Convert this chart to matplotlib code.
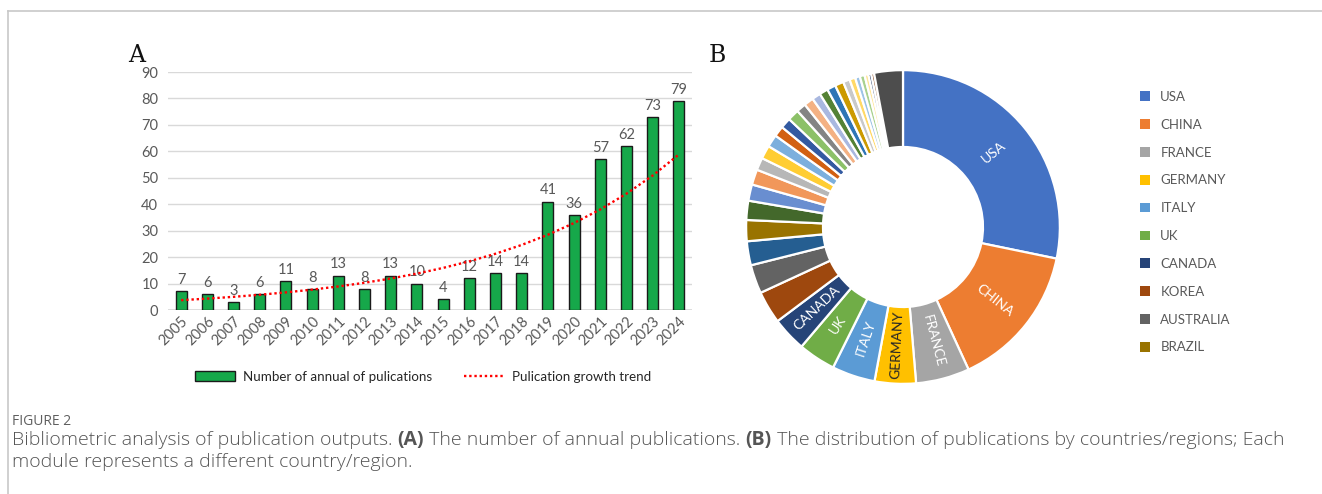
import numpy as np
import matplotlib
matplotlib.use("Agg")
import matplotlib.pyplot as plt
from matplotlib.patches import Patch
from matplotlib.lines import Line2D

# ---------------- data ----------------
years = [str(y) for y in range(2005, 2025)]
annual_pubs = [7, 6, 3, 6, 11, 8, 13, 8, 13, 10, 4, 12, 14, 14, 41, 36, 57, 62, 73, 79]

# donut slices in drawing order (clockwise from 12 o'clock)
slice_labels = ["USA", "CHINA", "FRANCE", "GERMANY", "ITALY", "UK", "CANADA", "KOREA",
                "AUSTRALIA", "", "BRAZIL"] + [""] * 22 + ["OTHERS"]
slice_values = [28.6, 15.1, 5.6, 4.3, 4.5, 3.9, 3.6, 3.4, 3.0, 2.5, 2.2,
                2.0, 1.7, 1.6, 1.3, 1.4, 1.3, 1.1, 1.1, 1.2, 1.0, 1.0, 0.9, 0.9,
                0.9, 0.9, 0.7, 0.6, 0.5, 0.5, 0.4, 0.3, 0.3, 3.0]
slice_colors = ["#4472C4", "#ED7D31", "#A5A5A5", "#FFC000", "#5B9BD5", "#70AD47",
                "#264478", "#9E480E", "#636363", "#255E91", "#997300",
                "#43682B", "#698ED0", "#F1975A", "#B7B7B7", "#FFCD33", "#7CAFDD",
                "#D26012", "#335AA1", "#8CC168", "#848484", "#F4B183", "#A9B8E0",
                "#548235", "#2E75B6", "#CC9A00", "#C9C9C9", "#FFD966", "#9DC3E6",
                "#A9D18E", "#FFE699", "#203864", "#843C0C", "#4D4D4D"]
inside_labels = ["USA", "CHINA", "FRANCE", "GERMANY", "ITALY", "UK", "CANADA"]
legend_labels = ["USA", "CHINA", "FRANCE", "GERMANY", "ITALY", "UK", "CANADA",
                 "KOREA", "AUSTRALIA", "BRAZIL"]

plt.rcParams['font.family'] = ['Lato', 'DejaVu Sans']
gray_txt = "#595959"

fig = plt.figure(figsize=(13.22, 4.94), dpi=100)

# page frame lines (top and left)
fig.add_artist(Line2D([8 / 1322, 1.0], [1 - 11 / 494, 1 - 11 / 494], color="#C8C8C8", lw=1.2))
fig.add_artist(Line2D([8 / 1322, 8 / 1322], [0, 1 - 11 / 494], color="#C8C8C8", lw=1.2))

# ---------------- panel A ----------------
ax = fig.add_axes([168 / 1322, 1 - 310 / 494, 524 / 1322, 238 / 494])
x = np.arange(len(years))
bars = ax.bar(x, annual_pubs, width=0.42, color="#16A84A", edgecolor="#1a1a1a",
              linewidth=1.0, zorder=3, label="Number of annual of pulications")
ax.bar_label(bars, padding=3, color=gray_txt, fontsize=10.5)

# exponential growth trend fitted to the data
coef = np.polyfit(x, np.log(annual_pubs), 1)
trend = np.exp(np.polyval(coef, x))
trend_line, = ax.plot(x, trend, color="#FF0000", lw=1.7, ls=(0, (1, 1.2)), zorder=4,
                      label="Pulication growth trend")

ax.set_xlim(-0.5, len(years) - 0.5)
ax.set_ylim(0, 90)
ax.set_yticks(range(0, 91, 10))
ax.set_xticks(x)
ax.set_xticklabels(years, rotation=45, ha="right", rotation_mode="anchor")
ax.tick_params(axis="both", colors=gray_txt, labelsize=10.5, length=0, pad=7)
ax.tick_params(axis="x", pad=3)
ax.grid(axis="y", color="#D9D9D9", lw=1.0, zorder=0)
for s in ax.spines.values():
    s.set_visible(False)
ax.axhline(0, color="#D9D9D9", lw=1.2, zorder=1)

ax.legend(handles=[bars, trend_line], loc="upper center", bbox_to_anchor=(0.487, -0.205),
          ncol=2, frameon=False, fontsize=9.6, handlelength=3.0, handleheight=0.85,
          handletextpad=0.6, columnspacing=2.4, labelcolor="#262626")

fig.text(128 / 1322, 1 - 55 / 494, "A", fontsize=17, family="DejaVu Serif",
         va="center", ha="left", color="#111111")
fig.text(709 / 1322, 1 - 55 / 494, "B", fontsize=17, family="DejaVu Serif",
         va="center", ha="left", color="#111111")

# ---------------- panel B ----------------
axd = fig.add_axes([743 / 1322, 1 - 387 / 494, 320 / 1322, 320 / 494])
wedges, _ = axd.pie(slice_values, colors=slice_colors, startangle=90, counterclock=False,
                    radius=1.0, wedgeprops=dict(width=0.49, edgecolor="white", linewidth=1.6))
axd.set_xlim(-1.02, 1.02)
axd.set_ylim(-1.02, 1.02)
axd.set_aspect("equal")
axd.axis("off")

for w, lab in zip(wedges, slice_labels):
    if lab in inside_labels:
        ang = (w.theta1 + w.theta2) / 2.0
        r = 0.75
        tx, ty = r * np.cos(np.radians(ang)), r * np.sin(np.radians(ang))
        rot = ang
        if rot < -90 or rot > 90:
            rot += 180
        if rot > 180:
            rot -= 360
        col = "#262626" if lab == "GERMANY" else "white"
        axd.text(tx, ty, lab, rotation=rot, ha="center", va="center",
                 rotation_mode="anchor", color=col, fontsize=10)

handles = []
for lab in legend_labels:
    idx = slice_labels.index(lab)
    handles.append(Patch(facecolor=slice_colors[idx], edgecolor="none", label=lab))
fig.legend(handles=handles, loc="upper left", bbox_to_anchor=(1128 / 1322, 1 - 79 / 494),
           frameon=False, fontsize=9.5, labelcolor=gray_txt, handlelength=0.75,
           handleheight=0.75, handletextpad=0.8, labelspacing=1.2)

# ---------------- caption ----------------
cap_col = "#555555"
fig.text(12 / 1322, 1 - 421 / 494, "FIGURE 2", fontsize=10, color="#5f5f5f",
         family="Open Sans", va="center", ha="left")
line1 = ["Bibliometric analysis of publication outputs. ", "(A)",
         " The number of annual publications. ", "(B)",
         " The distribution of publications by countries/regions; Each"]
xpos = 12 / 1322
renderer = fig.canvas.get_renderer()
for seg in line1:
    t = fig.text(xpos, 1 - 440 / 494, seg, fontsize=14.0, color=cap_col, family="Open Sans",
                 va="center", ha="left",
                 fontweight="bold" if seg.startswith("(") else "light")
    bb = t.get_window_extent(renderer=renderer)
    xpos += bb.width / fig.bbox.width
fig.text(12 / 1322, 1 - 462 / 494, "module represents a different country/region.",
         fontsize=14.0, color=cap_col, family="Open Sans", va="center", ha="left",
         fontweight="light")

fig.savefig("out.png", dpi=100)
